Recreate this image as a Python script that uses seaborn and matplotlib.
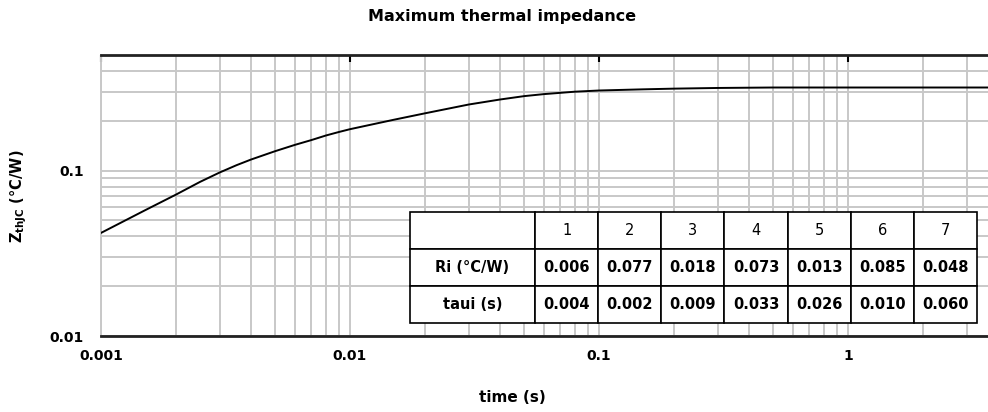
import numpy as np
import pandas as pd
import matplotlib
matplotlib.use('Agg')
import matplotlib.pyplot as plt
import matplotlib.ticker as mticker
import seaborn as sns

# Dados
tempo = [0.001, 0.0015, 0.002, 0.0025, 0.003, 0.0035, 0.004, 0.005, 0.006, 0.007,
         0.008, 0.009, 0.01, 0.015, 0.02, 0.03, 0.04, 0.05, 0.06, 0.08,
         0.1, 0.15, 0.2, 0.3, 0.5, 1, 2, 3.65]
zth = [0.042, 0.0575, 0.0716, 0.0855, 0.0975, 0.1078, 0.1166, 0.131, 0.143, 0.153,
       0.163, 0.171, 0.178, 0.203, 0.222, 0.251, 0.269, 0.282, 0.290, 0.300,
       0.305, 0.310, 0.313, 0.316, 0.318, 0.318, 0.318, 0.318]

colunas = ['1', '2', '3', '4', '5', '6', '7']
ri = [0.006, 0.077, 0.018, 0.073, 0.013, 0.085, 0.048]
taui = [0.004, 0.002, 0.009, 0.033, 0.026, 0.010, 0.060]

x_ticks = [0.001, 0.01, 0.1, 1]
x_labels = ['0.001', '0.01', '0.1', '1']
y_ticks = [0.01, 0.1]
y_labels = ['0.01', '0.1']

# Configuracoes
sns.set_style('white')
plt.rcParams['font.family'] = ['DejaVu Sans']
plt.rcParams['mathtext.fontset'] = 'dejavusans'
plt.rcParams['text.color'] = 'black'
plt.rcParams['xtick.color'] = 'black'
plt.rcParams['ytick.color'] = 'black'

df = pd.DataFrame({'t': tempo, 'z': zth})

fig = plt.figure(figsize=(9.88, 4.12), dpi=100)
ax = fig.add_axes([101 / 988, 76 / 412, 887 / 988, 281 / 412])

sns.lineplot(data=df, x='t', y='z', color='black', linewidth=1.4, ax=ax, zorder=3)

ax.set_xscale('log')
ax.set_yscale('log')
ax.set_xlim(0.001, 3.65)
ax.set_ylim(0.01, 0.5)

ax.xaxis.set_major_locator(mticker.FixedLocator(x_ticks))
ax.xaxis.set_major_formatter(mticker.FixedFormatter(x_labels))
ax.xaxis.set_minor_locator(mticker.LogLocator(base=10, subs=np.arange(2, 10)))
ax.xaxis.set_minor_formatter(mticker.NullFormatter())
ax.yaxis.set_major_locator(mticker.FixedLocator(y_ticks))
ax.yaxis.set_major_formatter(mticker.FixedFormatter(y_labels))
ax.yaxis.set_minor_locator(mticker.LogLocator(base=10, subs=np.arange(2, 10)))
ax.yaxis.set_minor_formatter(mticker.NullFormatter())

ax.set_axisbelow(True)
ax.grid(True, which='both', color='#c8c8c8', linewidth=1.4)

ax.tick_params(axis='x', which='major', bottom=False, top=True, direction='in',
               length=5, width=1.5, color='black', labelcolor='black', pad=9, labelsize=10)
ax.tick_params(axis='x', which='minor', bottom=False, top=False)
ax.tick_params(axis='y', which='both', left=False, right=False, labelcolor='black',
               pad=9, labelsize=10)
for lab in ax.get_xticklabels() + ax.get_yticklabels():
    lab.set_fontweight('bold')

ax.spines['right'].set_visible(False)
ax.spines['left'].set_color('#c8c8c8')
ax.spines['left'].set_linewidth(1.4)
ax.spines['top'].set_color('#222222')
ax.spines['top'].set_linewidth(2)
ax.spines['bottom'].set_color('#222222')
ax.spines['bottom'].set_linewidth(2)

ax.set_xlabel('')
ax.set_ylabel('')

# Tabela
texto = [[''] + colunas,
         ['Ri (°C/W)'] + [f'{v:.3f}' for v in ri],
         ['taui (s)'] + [f'{v:.3f}' for v in taui]]
larg = [125 / 567] + [442 / 567 / 7] * 7
tab = ax.table(cellText=texto, colWidths=larg, cellLoc='center',
               bbox=[(410 - 101) / 887, (336 - 323) / 281, 567 / 887, 111 / 281])
tab.set_zorder(5)
tab.auto_set_font_size(False)
for (r, c), cell in tab.get_celld().items():
    cell.set_edgecolor('black')
    cell.set_linewidth(1.2)
    cell.set_facecolor('white')
    cell.get_text().set_fontsize(10.5)
    cell.get_text().set_color('black')
    if r > 0:
        cell.get_text().set_fontweight('bold')

# Textos
fig.text(502 / 988, 1 - 16 / 412, 'Maximum thermal impedance', ha='center', va='center',
         fontsize=11.5, fontweight='bold', color='black')
fig.text(512 / 988, 1 - 398 / 412, 'time (s)', ha='center', va='center',
         fontsize=11, fontweight='bold', color='black')
fig.text(19 / 988, 1 - 196 / 412, r'Z$_{\mathbf{thJC}}$ (°C/W)', ha='center', va='center',
         rotation=90, fontsize=10.5, fontweight='bold', color='black')

fig.savefig('out.png', dpi=100)
plt.close()
